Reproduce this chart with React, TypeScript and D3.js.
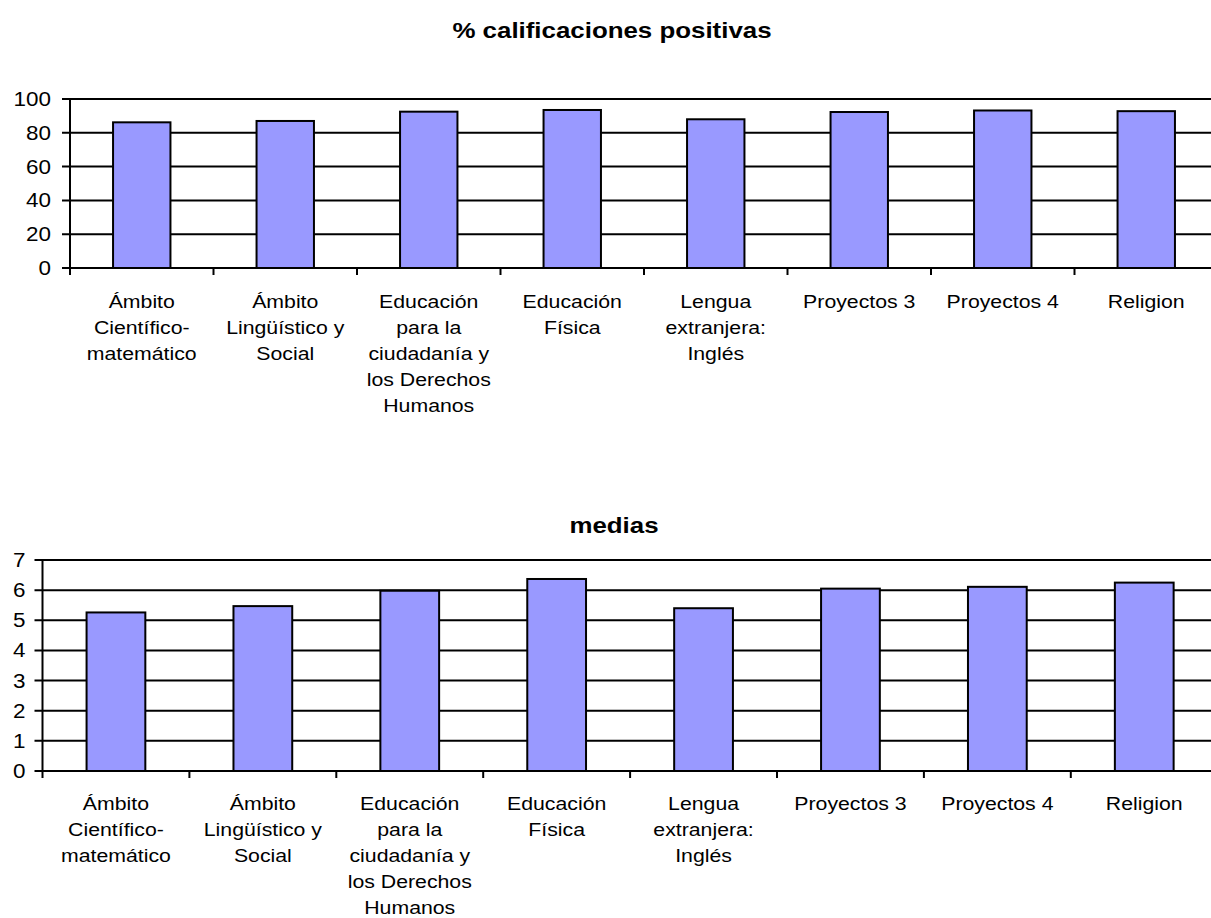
import React from 'react';
import { scaleBand, scaleLinear, range } from 'd3';

const categories = [
	'Ámbito Científico-matemático',
	'Ámbito Lingüístico y Social',
	'Educación para la ciudadanía y los Derechos Humanos',
	'Educación Física',
	'Lengua extranjera: Inglés',
	'Proyectos 3',
	'Proyectos 4',
	'Religion',
];

// wrapped axis labels, as in the picture
const categoryLines = [
	['Ámbito', 'Científico-', 'matemático'],
	['Ámbito', 'Lingüístico y', 'Social'],
	['Educación', 'para la', 'ciudadanía y', 'los Derechos', 'Humanos'],
	['Educación', 'Física'],
	['Lengua', 'extranjera:', 'Inglés'],
	['Proyectos 3'],
	['Proyectos 4'],
	['Religion'],
];

const positivas = [86.2, 87, 92.5, 93.5, 88, 92.3, 93.2, 92.8];
const medias = [5.26, 5.47, 5.98, 6.37, 5.4, 6.05, 6.11, 6.25];

const positivasTicks = [0, 20, 40, 60, 80, 100];
const mediasTicks = [0, 1, 2, 3, 4, 5, 6, 7];

const width = 1211;
const height = 918;
const font = 'Arial, "Liberation Sans", sans-serif';
const stretch = 1.15;
const barFill = '#9999FF';

type ChartProps = {
	title: string;
	titleX: number;
	titleY: number;
	values: number[];
	ticks: number[];
	left: number;
	top: number;
	bottom: number;
	step: number;
	labelGap: number;
	tickLabelGap: number;
};

function Chart({ title, titleX, titleY, values, ticks, left, top, bottom, step, labelGap, tickLabelGap }: ChartProps) {
	const x = scaleBand()
		.domain(categories)
		.range([left, left + step * categories.length]);
	const y = scaleLinear()
		.domain([0, ticks[ticks.length - 1]])
		.range([bottom, top]);
	const right = x.range()[1];
	const barW = x.bandwidth() * 0.4;

	return (
		<g>
			<text
				transform={`translate(${titleX},${titleY}) scale(${stretch},1)`}
				textAnchor="middle"
				fontFamily={font}
				fontWeight="bold"
				fontSize={22.5}
			>
				{title}
			</text>
			{/* gridlines */}
			{ticks.map((t) => (
				<line key={'g' + t} x1={left - 8} x2={right} y1={y(t)} y2={y(t)} stroke="#000" strokeWidth={2} />
			))}
			{ticks.map((t) => (
				<text
					key={'t' + t}
					transform={`translate(${left - tickLabelGap},${y(t) + 7}) scale(${stretch},1)`}
					textAnchor="end"
					fontFamily={font}
					fontSize={19.5}
				>
					{t}
				</text>
			))}
			{values.map((v, i) => {
				const cx = x(categories[i])! + x.bandwidth() / 2;
				return (
					<rect
						key={'b' + i}
						x={cx - barW / 2}
						y={y(v)}
						width={barW}
						height={y(0) - y(v)}
						fill={barFill}
						stroke="#000"
						strokeWidth={2}
					/>
				);
			})}
			{/* axes */}
			<line x1={left} x2={left} y1={top} y2={bottom + 7} stroke="#000" strokeWidth={2} />
			<line x1={left} x2={right} y1={bottom} y2={bottom} stroke="#000" strokeWidth={2} />
			{range(1, categories.length + 1).map((i) => (
				<line
					key={'xt' + i}
					x1={left + i * step}
					x2={left + i * step}
					y1={bottom}
					y2={bottom + 7}
					stroke="#000"
					strokeWidth={2}
				/>
			))}
			{categories.map((c, i) => {
				const cx = x(c)! + x.bandwidth() / 2;
				return categoryLines[i].map((line, j) => (
					<text
						key={c + j}
						transform={`translate(${cx},${bottom + labelGap + j * 26}) scale(${stretch},1)`}
						textAnchor="middle"
						fontFamily={font}
						fontSize={18.5}
					>
						{line}
					</text>
				));
			})}
		</g>
	);
}

function App() {
	return (
		<svg
			width={width}
			height={height}
			style={{ position: 'absolute', left: 0, top: 0, background: '#fff' }}
		>
			<rect width={width} height={height} fill="#fff" />
			<Chart
				title="% calificaciones positivas"
				titleX={612}
				titleY={38}
				values={positivas}
				ticks={positivasTicks}
				left={70}
				top={99}
				bottom={268}
				step={143.5}
				labelGap={40}
				tickLabelGap={19}
			/>
			<Chart
				title="medias"
				titleX={614}
				titleY={533}
				values={medias}
				ticks={mediasTicks}
				left={42.5}
				top={560}
				bottom={771}
				step={146.9}
				labelGap={39}
				tickLabelGap={17}
			/>
		</svg>
	);
}

export default App;
